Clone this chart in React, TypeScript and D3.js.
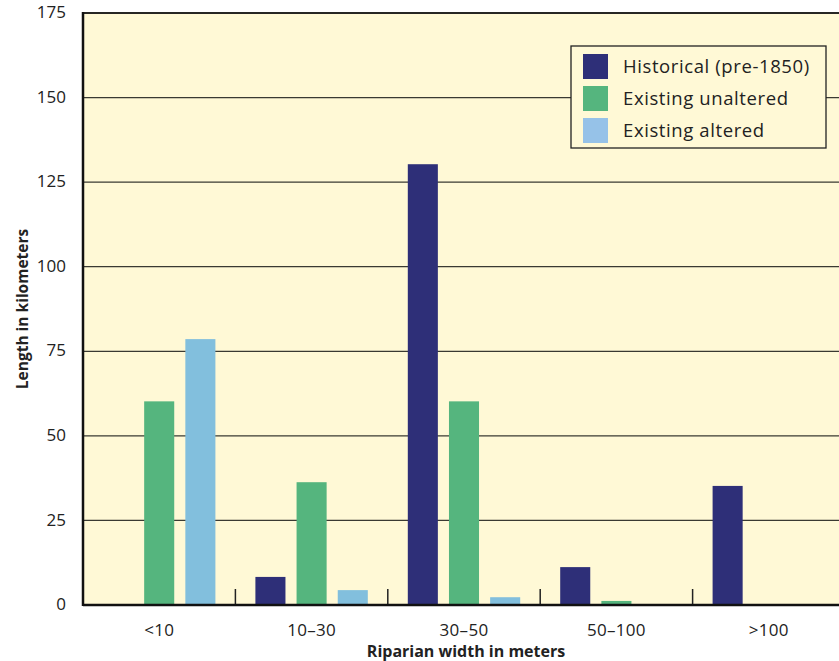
import React from "react";
import * as d3 from "d3";

const categories = ["<10", "10–30", "30–50", "50–100", ">100"];
const seriesNames = ["Historical (pre-1850)", "Existing unaltered", "Existing altered"];
const historical = [0, 8.3, 130.3, 11.2, 35.2];
const unaltered = [60.2, 36.3, 60.2, 1.2, 0];
const altered = [78.6, 4.4, 2.3, 0, 0];
const yTicks = [0, 25, 50, 75, 100, 125, 150, 175];
const barColors = ["#2e2f78", "#55b57e", "#82bfdd"];
const legendColors = ["#2e2f78", "#55b57e", "#96c2e8"];

const W = 839, H = 661;
const left = 83, right = 845, top = 13, bottom = 605;
const font = "'Open Sans', Lato, sans-serif";

export default function App() {
  const series = [historical, unaltered, altered];
  const x0 = d3.scaleBand<string>().domain(categories).range([left, right]).paddingInner(0).paddingOuter(0);
  const x1 = d3.scaleBand<number>().domain([0, 1, 2]).range([20, x0.bandwidth() - 20]).paddingInner(0.27).paddingOuter(0);
  const y = d3.scaleLinear().domain([0, 175]).range([bottom, top]);

  return (
    <svg width={W} height={H} style={{ position: "absolute", left: 0, top: 0, background: "#fff" }}>
      <rect x={left} y={top} width={W - left} height={bottom - top} fill="#fff9d6" />
      {yTicks.filter(t => t > 0).map(t => (
        <line key={"g" + t} x1={left} x2={W} y1={y(t)} y2={y(t)} stroke="#3a3a32" strokeWidth={1.3} />
      ))}
      {categories.map((c, i) =>
        series.map((s, j) =>
          s[i] > 0 ? (
            <rect key={c + j} x={(x0(c) as number) + (x1(j) as number)} y={y(s[i])} width={x1.bandwidth()}
              height={bottom - y(s[i])} fill={barColors[j]} />
          ) : null
        )
      )}
      {categories.slice(1).map(c => (
        <line key={"t" + c} x1={x0(c)} x2={x0(c)} y1={bottom} y2={bottom - 16} stroke="#222" strokeWidth={1.5} />
      ))}
      <line x1={left} x2={W} y1={bottom} y2={bottom} stroke="#111" strokeWidth={2.5} />
      <line x1={left} x2={left} y1={top - 1} y2={bottom + 1} stroke="#111" strokeWidth={2.5} />
      <line x1={left} x2={W} y1={top} y2={top} stroke="#111" strokeWidth={1.3} />
      {yTicks.map(t => (
        <text key={"y" + t} x={66} y={y(t)} dy="0.3em" textAnchor="end" fontFamily={font} fontSize={17} fill="#222">{t}</text>
      ))}
      {categories.map(c => (
        <text key={"x" + c} x={(x0(c) as number) + x0.bandwidth() / 2} y={636} textAnchor="middle" fontFamily={font} fontSize={17} letterSpacing={0.3} fill="#222">{c}</text>
      ))}
      <text x={466} y={657} textAnchor="middle" fontFamily={font} fontSize={16} fontWeight="bold" fill="#222">Riparian width in meters</text>
      <text transform="translate(28,309) rotate(-90)" textAnchor="middle" fontFamily={font} fontSize={15.5} fontWeight="bold" fill="#222">Length in kilometers</text>
      <g>
        <rect x={571} y={46} width={255} height={102} fill="#fff9d6" stroke="#222" strokeWidth={1.3} />
        {seriesNames.map((n, i) => (
          <g key={n} transform={`translate(583,${54 + i * 32})`}>
            <rect width={25} height={25} fill={legendColors[i]} />
            <text x={40} y={13} dy="0.35em" fontFamily={font} fontSize={18.5} letterSpacing={0.6} fill="#222">{n}</text>
          </g>
        ))}
      </g>
    </svg>
  );
}
